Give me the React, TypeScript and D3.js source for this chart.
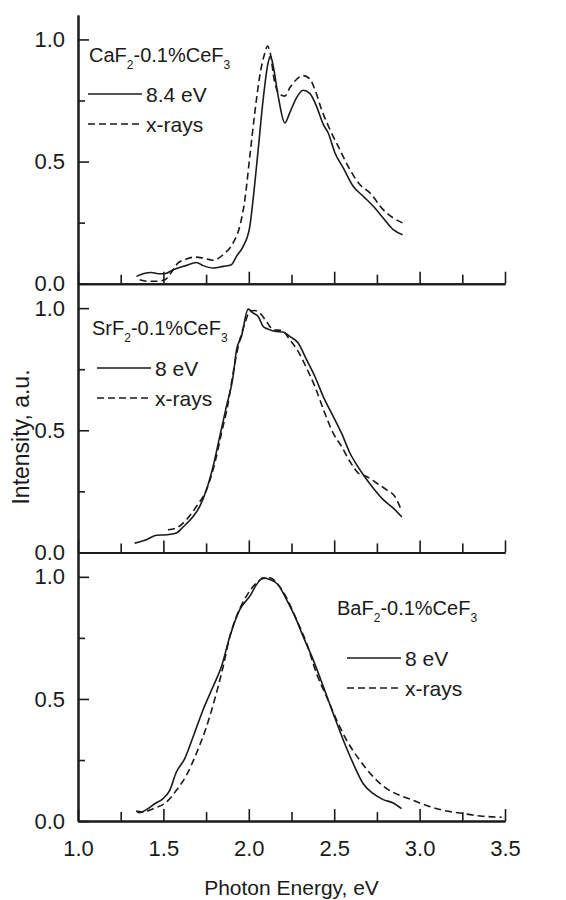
import React, { useRef, useEffect } from "react";
import * as d3 from "d3";

// photon energy (eV), intensity (a.u.)
const caF2Vuv = [
  [1.342, 0.03], [1.381, 0.041], [1.43, 0.046], [1.469, 0.041], [1.508, 0.041],
  [1.557, 0.057], [1.635, 0.075], [1.693, 0.087], [1.732, 0.074], [1.791, 0.064],
  [1.85, 0.071], [1.898, 0.078], [1.928, 0.112], [1.967, 0.153], [2.006, 0.235],
  [2.025, 0.344], [2.055, 0.549], [2.084, 0.754], [2.113, 0.904], [2.127, 0.932],
  [2.143, 0.891], [2.172, 0.768], [2.211, 0.658], [2.24, 0.7], [2.279, 0.761],
  [2.318, 0.792], [2.357, 0.779], [2.396, 0.727], [2.436, 0.652], [2.465, 0.617],
  [2.504, 0.536], [2.553, 0.474], [2.611, 0.399], [2.67, 0.358], [2.729, 0.317],
  [2.787, 0.269], [2.846, 0.221], [2.9, 0.2],
];
const caF2Xray = [
  [1.361, 0.016], [1.41, 0.01], [1.459, 0.01], [1.508, 0.016], [1.537, 0.037],
  [1.586, 0.085], [1.635, 0.101], [1.684, 0.109], [1.732, 0.105], [1.791, 0.096],
  [1.85, 0.119], [1.908, 0.167], [1.947, 0.235], [1.977, 0.344], [2.006, 0.522],
  [2.035, 0.699], [2.064, 0.85], [2.094, 0.945], [2.109, 0.973], [2.123, 0.952],
  [2.152, 0.822], [2.182, 0.775], [2.211, 0.768], [2.24, 0.802], [2.279, 0.836],
  [2.318, 0.852], [2.357, 0.839], [2.387, 0.795], [2.426, 0.713], [2.475, 0.631],
  [2.523, 0.563], [2.592, 0.467], [2.65, 0.406], [2.709, 0.372], [2.787, 0.303],
  [2.846, 0.269], [2.9, 0.249],
];
const srF2Vuv = [
  [1.332, 0.038], [1.4, 0.052], [1.459, 0.07], [1.518, 0.072], [1.576, 0.079],
  [1.615, 0.104], [1.674, 0.147], [1.713, 0.188], [1.752, 0.256], [1.791, 0.352],
  [1.83, 0.475], [1.869, 0.598], [1.908, 0.72], [1.928, 0.829], [1.957, 0.884],
  [1.996, 0.996], [2.025, 0.98], [2.055, 0.966], [2.084, 0.925], [2.113, 0.914],
  [2.152, 0.905], [2.201, 0.902], [2.24, 0.884], [2.289, 0.857], [2.338, 0.789],
  [2.387, 0.72], [2.436, 0.638], [2.494, 0.557], [2.543, 0.488], [2.592, 0.407],
  [2.631, 0.359], [2.67, 0.318], [2.729, 0.263], [2.787, 0.216], [2.846, 0.181],
  [2.896, 0.145],
];
const srF2Xray = [
  [1.527, 0.093], [1.576, 0.1], [1.635, 0.134], [1.693, 0.188], [1.752, 0.256],
  [1.801, 0.366], [1.84, 0.488], [1.879, 0.611], [1.908, 0.734], [1.938, 0.843],
  [1.977, 0.938], [2.006, 0.986], [2.035, 0.99], [2.064, 0.98], [2.104, 0.945],
  [2.143, 0.911], [2.191, 0.909], [2.24, 0.871], [2.289, 0.823], [2.338, 0.755],
  [2.387, 0.679], [2.445, 0.57], [2.494, 0.488], [2.543, 0.434], [2.592, 0.372],
  [2.641, 0.325], [2.689, 0.311], [2.748, 0.284], [2.807, 0.256], [2.855, 0.229],
  [2.896, 0.168],
];
const baF2Vuv = [
  [1.342, 0.041], [1.361, 0.034], [1.4, 0.047], [1.449, 0.071], [1.498, 0.092],
  [1.537, 0.126], [1.576, 0.201], [1.625, 0.256], [1.674, 0.345], [1.732, 0.455],
  [1.791, 0.551], [1.84, 0.633], [1.889, 0.756], [1.947, 0.866], [2.006, 0.921],
  [2.045, 0.968], [2.084, 0.996], [2.123, 0.989], [2.172, 0.968], [2.221, 0.907],
  [2.27, 0.838], [2.318, 0.756], [2.377, 0.66], [2.436, 0.551], [2.494, 0.441],
  [2.553, 0.332], [2.611, 0.236], [2.67, 0.153], [2.729, 0.112], [2.787, 0.088],
  [2.846, 0.074], [2.894, 0.051],
];
const baF2Xray = [
  [1.342, 0.041], [1.381, 0.037], [1.44, 0.051], [1.518, 0.078], [1.576, 0.126],
  [1.635, 0.188], [1.693, 0.277], [1.752, 0.386], [1.81, 0.523], [1.85, 0.633],
  [1.889, 0.756], [1.928, 0.838], [1.986, 0.921], [2.035, 0.968], [2.084, 0.993],
  [2.123, 0.996], [2.172, 0.968], [2.221, 0.914], [2.279, 0.825], [2.338, 0.729],
  [2.396, 0.605], [2.455, 0.51], [2.514, 0.414], [2.572, 0.332], [2.65, 0.249],
  [2.729, 0.181], [2.807, 0.133], [2.885, 0.105], [2.963, 0.085], [3.041, 0.064],
  [3.139, 0.044], [3.236, 0.033], [3.354, 0.021], [3.48, 0.016],
];

const samples = [["CaF", "2", "-0.1%CeF", "3"], ["SrF", "2", "-0.1%CeF", "3"], ["BaF", "2", "-0.1%CeF", "3"]];
const vuvLabels = ["8.4 eV", "8 eV", "8 eV"];
const xrayLabel = "x-rays";
const xMajorTicks = [1.0, 1.5, 2.0, 2.5, 3.0, 3.5];
const xMinorTicks = [1.25, 1.75, 2.25, 2.75, 3.25];
const yMajorTicks = [0, 0.5, 1.0];
const yMinorTicks = [0.25, 0.75];

const App = () => {
  const ref = useRef(null);

  useEffect(() => {
    const svg = d3.select(ref.current);
    svg.selectAll("*").remove();

    const width = 566;
    const height = 900;
    const left = 78;
    const right = 505;
    const top = 15;
    const panelH = 268.7;
    const ink = "#1a1a1a";
    const font = "'Liberation Sans', Arial, Helvetica, sans-serif";

    svg.attr("width", width).attr("height", height);

    const x = d3.scaleLinear().domain([1.0, 3.5]).range([left, right]);

    const series = [
      [caF2Vuv, caF2Xray],
      [srF2Vuv, srF2Xray],
      [baF2Vuv, baF2Xray],
    ];

    // legend placement per panel
    const legends = [
      { tx: 89, ty: 62, lx: 88, ly: 94 },
      { tx: 92, ty: 335, lx: 97, ly: 368 },
      { tx: 337, ty: 615, lx: 347, ly: 658 },
    ];

    series.forEach(([vuv, xray], i) => {
      const pTop = top + i * panelH;
      const pBot = pTop + panelH;
      const y = d3.scaleLinear().domain([0, 1.1]).range([pBot, pTop]);
      const g = svg.append("g");

      const line = d3
        .line()
        .x((d) => x(d[0]))
        .y((d) => y(d[1]))
        .curve(d3.curveMonotoneX);

      g.append("path")
        .attr("d", line(vuv))
        .attr("fill", "none")
        .attr("stroke", ink)
        .attr("stroke-width", 1.6);

      g.append("path")
        .attr("d", line(xray))
        .attr("fill", "none")
        .attr("stroke", ink)
        .attr("stroke-width", 1.6)
        .attr("stroke-dasharray", "7,4");

      // y axis
      const yAx = g
        .append("g")
        .attr("transform", `translate(${left},0)`)
        .call(
          d3
            .axisLeft(y)
            .tickValues(yMajorTicks)
            .tickSizeInner(-11)
            .tickSizeOuter(0)
            .tickPadding(13)
            .tickFormat(d3.format(".1f"))
        );
      yAx.selectAll("text").attr("font-size", 22).attr("font-family", font).attr("fill", ink);
      g.append("g")
        .attr("transform", `translate(${left},0)`)
        .call(d3.axisLeft(y).tickValues(yMinorTicks).tickSizeInner(-7).tickSizeOuter(0).tickFormat(() => ""));

      // x axis
      const xAx = g
        .append("g")
        .attr("transform", `translate(0,${pBot})`)
        .call(
          d3
            .axisBottom(x)
            .tickValues(xMajorTicks)
            .tickSizeInner(-12)
            .tickSizeOuter(0)
            .tickPadding(19)
            .tickFormat(i === 2 ? d3.format(".1f") : () => "")
        );
      xAx.selectAll("text").attr("font-size", 22).attr("font-family", font).attr("fill", ink);
      g.append("g")
        .attr("transform", `translate(0,${pBot})`)
        .call(d3.axisBottom(x).tickValues(xMinorTicks).tickSizeInner(-9).tickSizeOuter(0).tickFormat(() => ""));

      g.selectAll(".domain").attr("stroke", ink).attr("stroke-width", 2);
      g.selectAll(".tick line").attr("stroke", ink).attr("stroke-width", 1.6);

      // legend
      const lg = legends[i];
      const s = samples[i];
      const t = g
        .append("text")
        .attr("x", lg.tx)
        .attr("y", lg.ty)
        .attr("font-family", font)
        .attr("font-size", 20)
        .attr("fill", ink);
      t.append("tspan").text(s[0]);
      t.append("tspan").attr("font-size", 12).attr("dy", 7).text(s[1]);
      t.append("tspan").attr("dy", -7).text(s[2]);
      t.append("tspan").attr("font-size", 12).attr("dy", 7).text(s[3]);

      const rows = [
        { label: vuvLabels[i], dash: null, yy: lg.ly },
        { label: xrayLabel, dash: "7,4", yy: lg.ly + 30 },
      ];
      rows.forEach((r) => {
        g.append("line")
          .attr("x1", lg.lx)
          .attr("x2", lg.lx + 54)
          .attr("y1", r.yy)
          .attr("y2", r.yy)
          .attr("stroke", ink)
          .attr("stroke-width", 1.6)
          .attr("stroke-dasharray", r.dash);
        g.append("text")
          .attr("x", lg.lx + 58)
          .attr("y", r.yy + 8)
          .attr("font-family", font)
          .attr("font-size", 21)
          .attr("fill", ink)
          .text(r.label);
      });
    });

    svg
      .append("text")
      .attr("transform", `translate(29,437) rotate(-90)`)
      .attr("text-anchor", "middle")
      .attr("font-family", font)
      .attr("font-size", 23)
      .attr("fill", ink)
      .text("Intensity, a.u.");

    svg
      .append("text")
      .attr("x", (left + right) / 2)
      .attr("y", 895)
      .attr("text-anchor", "middle")
      .attr("font-family", font)
      .attr("font-size", 21)
      .attr("fill", ink)
      .text("Photon Energy, eV");
  }, []);

  return <svg ref={ref} style={{ position: "absolute", left: 0, top: 0, background: "#fff" }}></svg>;
};

export default App;
